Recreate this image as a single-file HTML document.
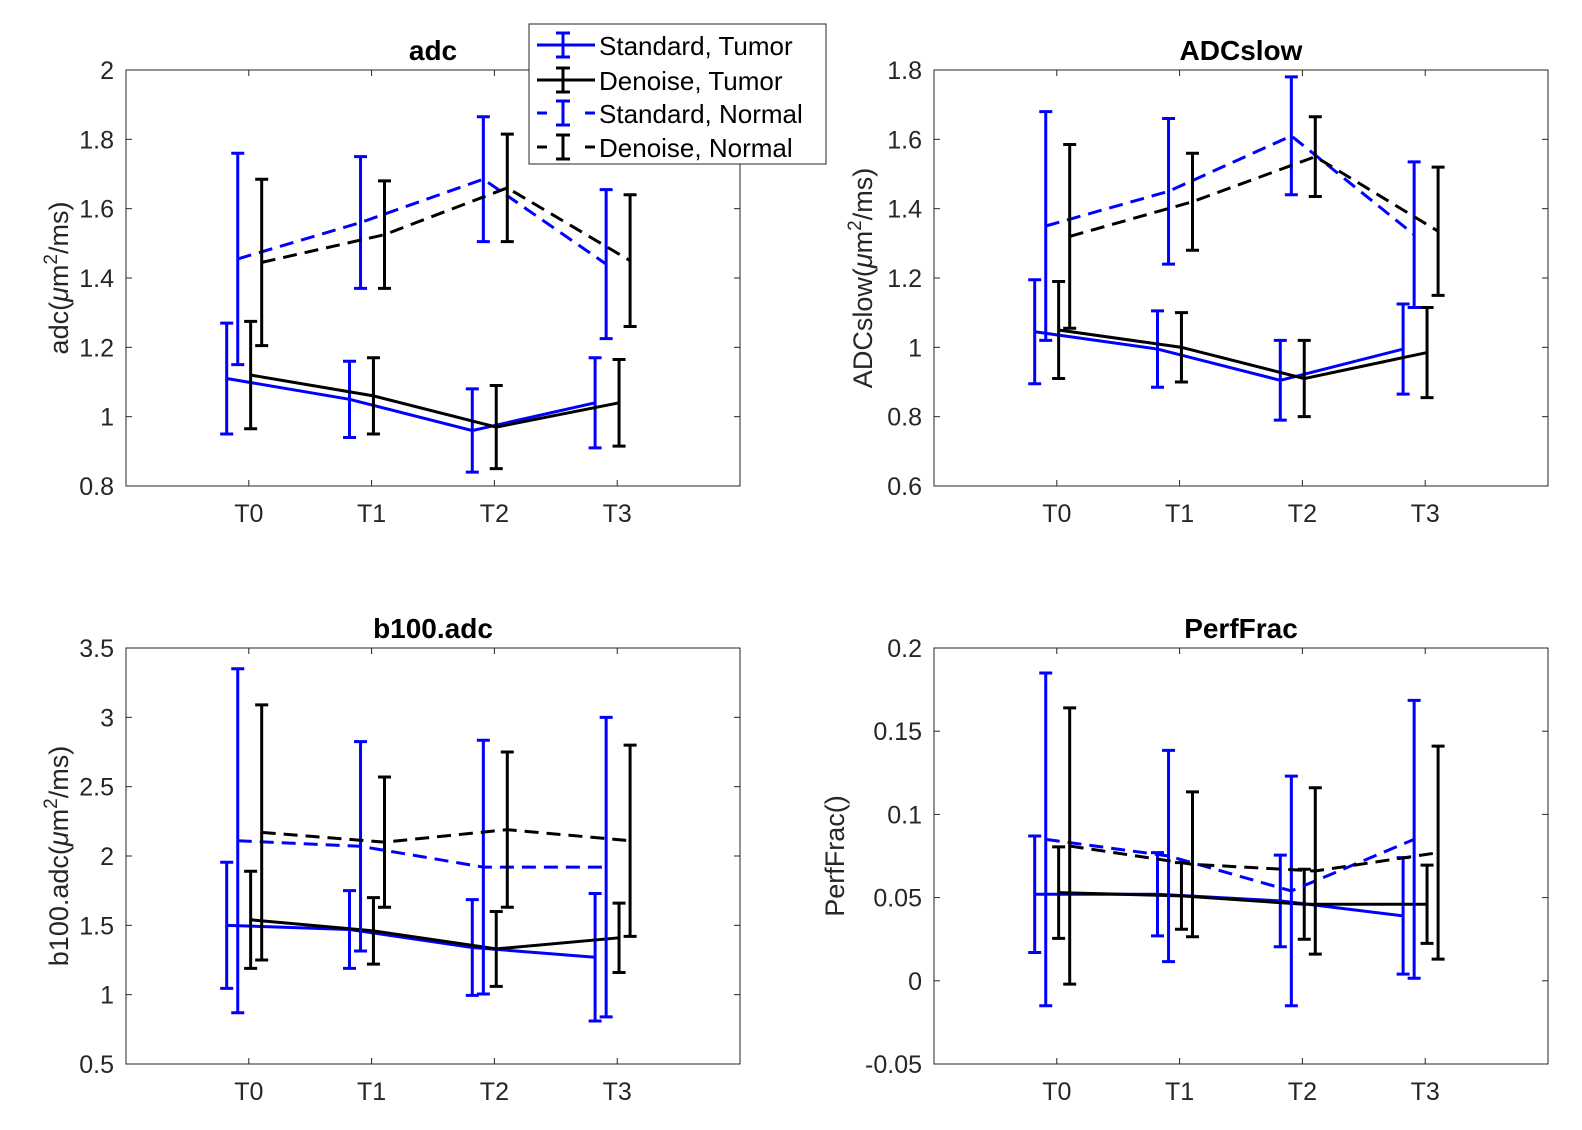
<!DOCTYPE html>
<html><head><meta charset="utf-8"><style>
html,body{margin:0;padding:0;background:#fff;overflow:hidden;width:1582px;height:1130px;}
svg{display:block;}
svg text{font-family:"Liberation Sans",sans-serif;}
</style></head><body>
<svg id="fig" width="1582" height="1130" xmlns="http://www.w3.org/2000/svg"></svg>
<script>
const categories=["T0","T1","T2","T3"];
const seriesNames=["Standard, Tumor","Denoise, Tumor","Standard, Normal","Denoise, Normal"];
const adcMeans=[[1.11,1.05,0.96,1.04],[1.12,1.06,0.97,1.04],[1.455,1.56,1.685,1.44],[1.445,1.525,1.66,1.45]];
const adcErr=[[0.16,0.11,0.12,0.13],[0.155,0.11,0.12,0.125],[0.305,0.19,0.18,0.215],[0.24,0.155,0.155,0.19]];
const slowMeans=[[1.045,0.995,0.905,0.995],[1.05,1.0,0.91,0.985],[1.35,1.45,1.61,1.325],[1.32,1.42,1.55,1.335]];
const slowErr=[[0.15,0.11,0.115,0.13],[0.14,0.1,0.11,0.13],[0.33,0.21,0.17,0.21],[0.265,0.14,0.115,0.185]];
const b100Means=[[1.50,1.47,1.34,1.27],[1.54,1.46,1.33,1.41],[2.11,2.07,1.92,1.92],[2.17,2.10,2.19,2.11]];
const b100Err=[[0.455,0.28,0.345,0.46],[0.35,0.24,0.27,0.25],[1.24,0.755,0.915,1.08],[0.92,0.47,0.56,0.69]];
const pfMeans=[[0.052,0.052,0.048,0.039],[0.053,0.051,0.046,0.046],[0.085,0.075,0.054,0.085],[0.081,0.07,0.066,0.077]];
const pfErr=[[0.035,0.025,0.0275,0.035],[0.0275,0.02,0.021,0.0235],[0.1,0.0635,0.069,0.0835],[0.083,0.0435,0.05,0.064]];
const adcTicks=["0.8","1","1.2","1.4","1.6","1.8","2"];
const slowTicks=["0.6","0.8","1","1.2","1.4","1.6","1.8"];
const b100Ticks=["0.5","1","1.5","2","2.5","3","3.5"];
const pfTicks=["-0.05","0","0.05","0.1","0.15","0.2"];

const NS="http://www.w3.org/2000/svg";
const svg=document.getElementById('fig');
const colors=["#0000ff","#000000","#0000ff","#000000"];
const dashes=["","","14 8","14 8"];
const offs=[-0.18,0.015,-0.09,0.105];
function mk(tag,attrs,parent){const e=document.createElementNS(NS,tag);for(const k in attrs)e.setAttribute(k,attrs[k]);(parent||svg).appendChild(e);return e;}

function panel(name,x0,y0,title,ylab,ymin,ymax,ticks,means,errs,labOff){
  const W=614,H=416;
  const g=mk('g',{});
  
  
  const xs=v=>x0+v/5*W;
  const ys=v=>y0+H-(v-ymin)/(ymax-ymin)*H;
  const box=mk('rect',{x:x0,y:y0,width:W,height:H,fill:'#fff',stroke:'#262626','stroke-width':1},g);
  
  
  ticks.forEach(t=>{const v=parseFloat(t),y=ys(v);
    mk('line',{x1:x0,x2:x0+6,y1:y,y2:y,stroke:'#262626'},g);
    mk('line',{x1:x0+W,x2:x0+W-6,y1:y,y2:y,stroke:'#262626'},g);
    const tx=mk('text',{x:x0-12,y:y+9,'text-anchor':'end','font-size':25,fill:'#262626'},g);
    tx.textContent=t;
    
    
  });
  categories.forEach((c,i)=>{const x=xs(i+1);
    mk('line',{x1:x,x2:x,y1:y0+H,y2:y0+H-6,stroke:'#262626'},g);
    mk('line',{x1:x,x2:x,y1:y0,y2:y0+6,stroke:'#262626'},g);
    const tx=mk('text',{x:x,y:y0+H+36,'text-anchor':'middle','font-size':25,fill:'#262626'},g);
    tx.textContent=c;
    
    
  });
  const tt=mk('text',{x:x0+W/2,y:y0-10,'text-anchor':'middle','font-size':28,'font-weight':'bold',fill:'#000'},g);
  tt.textContent=title;
  
  
  const yl=mk('text',{transform:`translate(${x0-labOff},${y0+H/2}) rotate(-90)`,'text-anchor':'middle','font-size':27,fill:'#262626'},g);
  yl.innerHTML=ylab;
  
  
  means.forEach((m,s)=>{
    const pts=m.map((v,i)=>xs(i+1+offs[s])+','+ys(v)).join(' ');
    const pl=mk('polyline',{points:pts,fill:'none',stroke:colors[s],'stroke-width':3},g);
    if(dashes[s])pl.setAttribute('stroke-dasharray',dashes[s]);
    
    
    m.forEach((v,i)=>{
      const x=xs(i+1+offs[s]),yt=ys(v+errs[s][i]),yb=ys(v-errs[s][i]);
      const eb=mk('path',{d:`M${x},${yt}V${yb}M${x-6.5},${yt}H${x+6.5}M${x-6.5},${yb}H${x+6.5}`,stroke:colors[s],'stroke-width':3,fill:'none'},g);
      
      
    });
  });
}
const um='(<tspan font-style="italic">μ</tspan>m<tspan dy="-11" font-size="19">2</tspan><tspan dy="11">/ms)</tspan>';
panel('adc',126,70,'adc','adc'+um,0.8,2.0,adcTicks,adcMeans,adcErr,58);
panel('adcslow',934,70,'ADCslow','ADCslow'+um,0.6,1.8,slowTicks,slowMeans,slowErr,62);
panel('b100',126,648,'b100.adc','b100.adc'+um,0.5,3.5,b100Ticks,b100Means,b100Err,58);
panel('perffrac',934,648,'PerfFrac','PerfFrac()',-0.05,0.2,pfTicks,pfMeans,pfErr,90);

const lg=mk('g',{});


mk('rect',{x:529,y:24,width:297,height:140,fill:'#fff',stroke:'#262626','stroke-width':1},lg);
const ly=[45,80,113,147];
seriesNames.forEach((n,s)=>{
  const y=ly[s];
  const ln=mk('line',{x1:537,x2:595,y1:y,y2:y,stroke:colors[s],'stroke-width':3},lg);
  if(dashes[s]){ln.setAttribute('stroke-dasharray','10 38');}
  mk('path',{d:`M563,${y-12}V${y+12}M556,${y-12}H570M556,${y+12}H570`,stroke:colors[s],'stroke-width':3,fill:'none'},lg);
  const t=mk('text',{x:599,y:y+10,'font-size':26,fill:'#000'},lg);
  t.textContent=n;
  
  
});
</script>
</body></html>
